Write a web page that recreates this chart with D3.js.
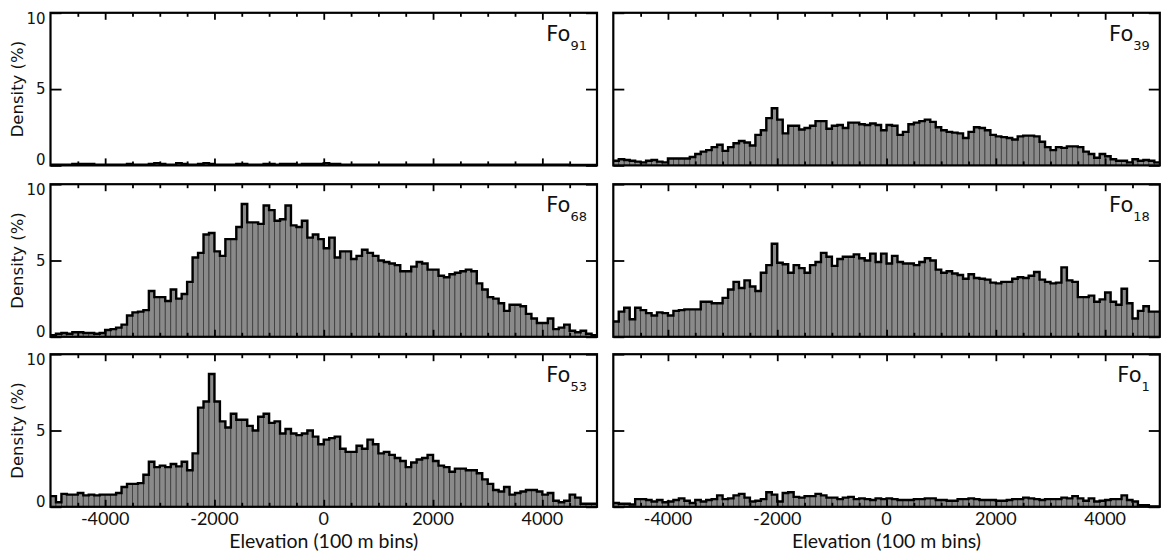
<!DOCTYPE html>
<meta charset="utf-8">
<head>
  <style>
    body {margin: 0; background-color: #ffffff;}
  </style>
  <title></title>
</head>
<body>
<script src="https://d3js.org/d3.v7.min.js"></script>
<script>

// bin starts, 100 m bins from -5000 to 4900
const binStarts = d3.range(-5000, 5000, 100);
const majorTicks = [-4000, -2000, 0, 2000, 4000];
const minorTicks = d3.range(-4500, 5000, 500).filter(t => t % 2000 != 0);
const yTicks = [0, 5, 10];

// density (%) per bin
const fo91 = [0.05,0.05,0.05,0.05,0.1,0.1,0.1,0.1,0.05,0.05, 0.05,0.05,0.05,0.05,0.1,0.05,0.05,0.05,0.1,0.15,
  0.1,0.05,0.05,0.15,0.1,0.05,0.05,0.1,0.15,0.1, 0.05,0.05,0.05,0.05,0.1,0.1,0.05,0.05,0.05,0.1,
  0.1,0.05,0.1,0.1,0.1,0.05,0.1,0.1,0.1,0.1, 0.15,0.1,0.1,0.05,0.05,0.05,0.05,0.05,0.05,0.05,
  0.05,0.05,0.05,0.05,0.05,0.05,0.05,0.05,0.05,0.05, 0.05,0.05,0.05,0.05,0.05,0.05,0.05,0.05,0.05,0.05,
  0.05,0.05,0.05,0.05,0.05,0.05,0.05,0.05,0.05,0.05, 0.05,0.05,0.05,0.05,0.05,0.03,0.03,0.03,0.03,0.03];

const fo39 = [0.3,0.4,0.35,0.3,0.25,0.2,0.3,0.35,0.25,0.2, 0.45,0.45,0.45,0.45,0.55,0.75,0.9,1.0,1.2,1.35,
  0.95,1.2,1.45,1.6,1.5,1.3,2.0,2.3,3.1,3.75, 3.0,2.1,2.6,2.6,2.35,2.45,2.6,2.9,2.9,2.4,
  2.6,2.65,2.45,2.8,2.8,2.7,2.65,2.75,2.65,2.3, 2.65,2.6,2.0,2.2,2.7,2.8,2.9,3.0,2.85,2.5,
  2.3,2.2,2.15,2.1,1.8,2.2,2.5,2.45,2.3,2.0, 1.9,1.85,1.8,1.7,1.9,1.95,1.95,1.9,1.55,1.2,
  1.0,1.2,1.15,1.25,1.25,1.2,0.9,0.75,0.5,0.75, 0.6,0.4,0.3,0.3,0.2,0.4,0.3,0.35,0.3,0.2];

const fo68 = [0.1,0.2,0.25,0.2,0.3,0.3,0.25,0.25,0.2,0.25, 0.45,0.5,0.6,0.8,1.4,1.6,1.65,1.75,3.0,2.6,
  2.6,2.35,3.1,2.5,2.8,3.6,5.2,5.5,6.7,6.8, 5.6,5.3,6.4,6.4,7.2,8.7,7.5,7.5,7.4,8.6,
  8.3,7.6,7.7,8.6,7.3,7.2,7.6,6.5,6.7,6.4, 5.8,6.5,5.2,5.6,5.6,5.1,5.3,5.7,5.5,5.3,
  5.0,4.9,4.8,4.7,4.3,4.3,4.6,4.9,4.8,4.4, 4.4,4.0,3.9,4.1,4.2,4.3,4.4,4.3,3.5,3.1,
  2.6,2.5,2.2,1.7,2.1,2.1,2.0,1.5,1.2,0.9, 0.9,1.2,0.5,0.6,0.8,0.4,0.3,0.4,0.2,0.1];

const fo18 = [1.0,1.65,1.9,1.15,1.9,1.75,1.55,1.4,1.6,1.55, 1.4,1.7,1.75,1.8,1.8,1.8,2.3,2.3,2.2,2.2,
  2.55,3.1,3.6,3.2,3.7,3.3,3.0,4.2,4.7,6.1, 4.85,4.75,4.2,4.7,4.5,4.2,4.7,4.9,5.5,5.25,
  4.65,5.1,5.25,5.25,5.4,5.15,5.0,5.45,4.9,5.45, 4.8,5.3,4.9,4.8,4.8,4.7,4.9,5.15,5.0,4.4,
  4.2,4.3,4.15,4.05,3.8,4.1,3.85,3.8,3.75,3.55, 3.5,3.6,3.6,3.8,3.9,3.85,4.0,4.25,3.75,3.6,
  3.5,3.55,4.55,3.7,3.6,2.6,2.6,2.7,2.3,2.45, 2.9,2.3,2.1,3.15,2.2,1.2,1.7,2.0,1.65,1.65];

const fo53 = [0.7,0.3,0.85,0.8,0.8,0.9,0.75,0.8,0.75,0.8, 0.8,0.8,0.9,1.3,1.5,1.5,1.55,2.1,2.95,2.6,
  2.7,2.6,2.8,2.65,2.95,2.4,3.5,6.5,6.9,8.7, 6.9,5.6,5.2,6.1,5.7,5.7,5.3,5.0,5.9,6.1,
  5.5,5.6,4.8,5.1,4.8,4.7,4.8,5.0,4.6,4.1, 4.4,4.5,4.6,3.8,3.6,3.6,4.0,3.8,4.4,4.1,
  3.5,3.6,3.4,3.2,3.0,2.6,2.9,3.1,3.2,3.4, 3.0,2.7,2.6,2.3,2.5,2.5,2.4,2.4,2.2,1.8,
  1.5,1.1,1.0,1.3,0.8,0.9,1.0,1.1,1.1,1.0, 0.8,0.9,0.4,0.3,0.4,0.8,0.6,0.2,0.2,0.2];

const fo1 = [0.25,0.2,0.2,0.15,0.5,0.5,0.45,0.35,0.45,0.3, 0.35,0.45,0.55,0.4,0.25,0.45,0.35,0.45,0.5,0.75,
  0.5,0.55,0.75,0.85,0.6,0.35,0.4,0.5,0.95,0.8, 0.35,0.9,0.95,0.65,0.6,0.7,0.7,0.85,0.75,0.6,
  0.6,0.5,0.6,0.65,0.5,0.55,0.5,0.45,0.55,0.5, 0.55,0.5,0.45,0.45,0.45,0.5,0.5,0.55,0.55,0.45,
  0.45,0.4,0.4,0.5,0.5,0.55,0.5,0.45,0.45,0.45, 0.4,0.4,0.45,0.5,0.5,0.6,0.55,0.5,0.45,0.5,
  0.5,0.5,0.6,0.55,0.7,0.55,0.4,0.55,0.35,0.4, 0.45,0.5,0.5,0.75,0.45,0.35,0.1,0.1,0.02,0.02];

const labels = ["91", "39", "68", "18", "53", "1"];
const series = [fo91, fo39, fo68, fo18, fo53, fo1];

const colX = [50.5, 613.3],
  rowY = [12.8, 184.2, 354.2],
  panelW = 546.5,
  panelH = 152.6;

var svg = d3.select("body")
  .append("svg")
    .attr("width", 1161)
    .attr("height", 555);

var x = d3.scaleLinear().domain([-5000, 5000]).range([0, panelW]);
var y = d3.scaleLinear().domain([0, 10]).range([panelH, 0]);

function drawPanel(vals, sub, col, row) {
  var g = svg.append("g")
    .attr("transform", "translate(" + colX[col] + "," + rowY[row] + ")");

  var data = binStarts.map((b, i) => ({x: b, v: vals[i]}));

  g.selectAll("rect.bar")
    .data(data)
    .enter()
    .append("rect")
      .attr("class", "bar")
      .attr("x", d => x(d.x))
      .attr("width", d => x(d.x + 100) - x(d.x))
      .attr("y", d => y(d.v))
      .attr("height", d => panelH - y(d.v))
      .attr("fill", "#8a8a8a")
      .attr("stroke", "#3a3a3a")
      .attr("stroke-width", 0.8);

  var stepPts = data.concat([{x: 5000, v: vals[vals.length - 1]}]);
  var line = d3.line()
    .x(d => x(d.x))
    .y(d => y(d.v))
    .curve(d3.curveStepAfter);

  g.append("path")
    .datum(stepPts)
    .attr("d", line)
    .attr("fill", "none")
    .attr("stroke", "#000")
    .attr("stroke-width", 2.4);

  // inward ticks on all four sides
  function ticks(axis, tr) {
    var a = g.append("g").attr("transform", tr).call(axis);
    a.select(".domain").remove();
    a.selectAll("line").attr("stroke", "#000").attr("stroke-width", 1.8);
    a.selectAll("text").remove();
  }
  ticks(d3.axisBottom(x).tickValues(minorTicks).tickSize(-4), "translate(0," + panelH + ")");
  ticks(d3.axisBottom(x).tickValues(majorTicks).tickSize(-7), "translate(0," + panelH + ")");
  ticks(d3.axisTop(x).tickValues(minorTicks).tickSize(-4), "translate(0,0)");
  ticks(d3.axisTop(x).tickValues(majorTicks).tickSize(-7), "translate(0,0)");
  ticks(d3.axisLeft(y).tickValues(yTicks).tickSize(-11), "translate(0,0)");
  ticks(d3.axisRight(y).tickValues(yTicks).tickSize(-11), "translate(" + panelW + ",0)");

  g.append("rect")
    .attr("width", panelW)
    .attr("height", panelH)
    .attr("fill", "none")
    .attr("stroke", "#000")
    .attr("stroke-width", 2.2);

  var lab = g.append("text")
    .attr("x", panelW - 10)
    .attr("y", 28)
    .attr("text-anchor", "end")
    .style("font-family", "DejaVu Sans")
    .attr("fill", "#111");
  lab.append("tspan").style("font-size", "21px").text("Fo");
  lab.append("tspan").style("font-size", "13px").attr("dy", 9).text(sub);

  if (col == 0) {
    // y labels sit inside the panel range at the ends
    var off = {0: -0.2, 5: 5.4, 10: 11};
    g.selectAll("text.ylab")
      .data(yTicks)
      .enter()
      .append("text")
        .attr("class", "ylab")
        .attr("x", -5)
        .attr("y", d => y(d) + off[d])
        .attr("text-anchor", "end")
        .style("font-family", "DejaVu Sans")
        .style("font-size", "15px")
        .attr("fill", "#111")
        .text(d => d);

    g.append("text")
      .attr("transform", "translate(-27.2," + panelH / 2 + ") rotate(-90)")
      .attr("text-anchor", "middle")
      .style("font-family", "DejaVu Sans")
      .style("font-size", "16.5px")
      .attr("fill", "#111")
      .text("Density (%)");
  }

  if (row == 2) {
    g.selectAll("text.xlab")
      .data(majorTicks)
      .enter()
      .append("text")
        .attr("class", "xlab")
        .attr("x", d => x(d))
        .attr("y", panelH + 18.1)
        .attr("text-anchor", "middle")
        .style("font-family", "Lato")
        .style("font-size", "18px")
        .attr("fill", "#111")
        .text(d => d);

    g.append("text")
      .attr("x", panelW / 2)
      .attr("y", panelH + 41)
      .attr("text-anchor", "middle")
      .style("font-family", "Lato")
      .style("font-size", "19.5px")
      .attr("fill", "#111")
      .text("Elevation (100 m bins)");
  }
}

for (let i = 0; i < series.length; i++) {
  drawPanel(series[i], labels[i], i % 2, Math.floor(i / 2));
}

</script>
</body>
</html>
